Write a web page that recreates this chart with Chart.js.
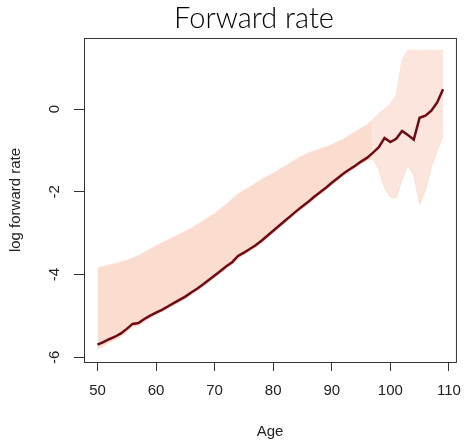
<!DOCTYPE html>
<html>
<head>
<meta charset="utf-8">
<script src="https://cdn.jsdelivr.net/npm/chart.js@4.4.1/dist/chart.umd.min.js"></script>
<style>
  html, body { margin: 0; padding: 0; background: #fff; }
  #wrap { width: 472px; height: 440px; }
</style>
</head>
<body>
<div id="wrap"><canvas id="fwdChart" width="472" height="440"></canvas></div>
<script>
// ages on the x axis
const ages = [50, 51, 52, 53, 54, 55, 56, 57, 58, 59,
    60, 61, 62, 63, 64, 65, 66, 67, 68, 69,
    70, 71, 72, 73, 74, 75, 76, 77, 78, 79,
    80, 81, 82, 83, 84, 85, 86, 87, 88, 89,
    90, 91, 92, 93, 94, 95, 96, 97, 98, 99,
    100, 101, 102, 103, 104, 105, 106, 107, 108, 109]

// observed log forward rate (dark line)
const observed = [-5.69, -5.63, -5.56, -5.50, -5.42, -5.31, -5.19, -5.17, -5.07, -4.99,
    -4.92, -4.85, -4.77, -4.69, -4.61, -4.53, -4.43, -4.34, -4.24, -4.13,
    -4.02, -3.91, -3.80, -3.70, -3.55, -3.47, -3.38, -3.29, -3.18, -3.06,
    -2.94, -2.82, -2.70, -2.58, -2.46, -2.35, -2.24, -2.12, -2.01, -1.90,
    -1.78, -1.67, -1.56, -1.46, -1.37, -1.27, -1.18, -1.06, -0.93, -0.70,
    -0.80, -0.72, -0.53, -0.63, -0.74, -0.21, -0.16, -0.04, 0.16, 0.48]

// upper edge of the simulated curves
const simUpper = [-3.83, -3.80, -3.76, -3.73, -3.69, -3.65, -3.60, -3.53, -3.46, -3.38,
    -3.30, -3.23, -3.16, -3.09, -3.02, -2.95, -2.88, -2.79, -2.70, -2.61,
    -2.52, -2.41, -2.30, -2.17, -2.05, -1.96, -1.88, -1.79, -1.70, -1.62,
    -1.55, -1.46, -1.38, -1.29, -1.20, -1.13, -1.06, -1.01, -0.96, -0.91,
    -0.86, -0.79, -0.72, -0.63, -0.55, -0.46, -0.38, -0.25, -0.10, 0.00,
    0.12, 0.35, 1.20, 1.42, 1.42, 1.42, 1.42, 1.42, 1.42, 1.42]

// lower edge of the simulated curves
const simLower = [-5.80, -5.72, -5.64, -5.57, -5.49, -5.38, -5.25, -5.23, -5.13, -5.05,
    -4.97, -4.90, -4.82, -4.74, -4.66, -4.58, -4.48, -4.39, -4.29, -4.18,
    -4.07, -3.96, -3.85, -3.75, -3.62, -3.52, -3.43, -3.34, -3.23, -3.11,
    -2.99, -2.87, -2.75, -2.63, -2.51, -2.40, -2.29, -2.17, -2.06, -1.95,
    -1.83, -1.72, -1.61, -1.51, -1.42, -1.32, -1.25, -1.20, -1.45, -1.90,
    -2.12, -2.15, -1.70, -1.35, -1.60, -2.30, -1.95, -1.40, -1.00, -0.62]

const xTicks = [50, 60, 70, 80, 90, 100, 110]
const yTicks = [-6, -4, -2, 0]

const pink = 'rgb(251,221,208)'
const pinkLight = 'rgb(252,229,220)'
const maroon = '#6f0a14'
const labelFont = '15px "Liberation Sans", Arial, sans-serif'

function pts(vals) {
    return ages.map((a, i) => ({ x: a, y: vals[i] }))
}

// title, rotated y labels, axis titles, frame
const decorations = {
    id: 'decorations',
    afterDraw(chart) {
        const ctx = chart.ctx
        const area = chart.chartArea
        const ys = chart.scales.y
        ctx.save()
        ctx.strokeStyle = '#333'
        ctx.lineWidth = 1
        ctx.strokeRect(area.left + 0.5, area.top + 0.5, area.right - area.left, area.bottom - area.top)

        ctx.fillStyle = '#222'
        ctx.font = labelFont
        ctx.textAlign = 'center'
        ctx.textBaseline = 'middle'
        yTicks.forEach(v => {
            ctx.save()
            ctx.translate(55, ys.getPixelForValue(v))
            ctx.rotate(-Math.PI / 2)
            ctx.fillText(String(v), 0, 0)
            ctx.restore()
        })

        ctx.save()
        ctx.translate(16, (area.top + area.bottom) / 2)
        ctx.rotate(-Math.PI / 2)
        ctx.fillText('log forward rate', 0, 0)
        ctx.restore()

        ctx.fillText('Age', (area.left + area.right) / 2, 432)

        ctx.fillStyle = '#000'
        ctx.font = '300 29px Lato, "Open Sans", sans-serif'
        ctx.textBaseline = 'alphabetic'
        ctx.fillText('Forward rate', 254, 28)
        ctx.restore()
    }
}

const ctx = document.getElementById('fwdChart').getContext('2d')
const fwdChart = new Chart(ctx, {
    type: 'line',
    data: {
        datasets: [{
            label: 'observed',
            data: pts(observed),
            borderColor: maroon,
            borderWidth: 2.5,
            pointRadius: 0,
            fill: false
        }, {
            label: 'upper',
            data: pts(simUpper),
            borderColor: pinkLight,
            borderWidth: 1,
            pointRadius: 0,
            fill: false
        }, {
            label: 'lower',
            data: pts(simLower),
            borderColor: pink,
            borderWidth: 1,
            pointRadius: 0,
            backgroundColor: pink,
            fill: 1,
            segment: {
                backgroundColor: c => c.p0.parsed.x >= 97 ? pinkLight : pink
            }
        }]
    },
    options: {
        responsive: false,
        animation: false,
        layout: {
            padding: { top: 38, right: 7, left: 0, bottom: 0 }
        },
        plugins: {
            legend: { display: false },
            tooltip: { enabled: false }
        },
        scales: {
            x: {
                type: 'linear',
                min: 47.7,
                max: 111.2,
                afterBuildTicks: s => { s.ticks = xTicks.map(v => ({ value: v })) },
                afterFit: s => { s.height = 78 },
                grid: {
                    drawOnChartArea: false,
                    drawTicks: true,
                    tickLength: 9,
                    color: '#333'
                },
                border: { display: false },
                ticks: {
                    padding: 11,
                    color: '#222',
                    font: { family: '"Liberation Sans", Arial, sans-serif', size: 15 },
                    maxRotation: 0
                }
            },
            y: {
                type: 'linear',
                min: -6.11,
                max: 1.715,
                afterBuildTicks: s => { s.ticks = yTicks.map(v => ({ value: v })) },
                afterFit: s => { s.width = 84 },
                grid: {
                    drawOnChartArea: false,
                    drawTicks: true,
                    tickLength: 10,
                    color: '#333'
                },
                border: { display: false },
                ticks: { display: false }
            }
        }
    },
    plugins: [decorations]
});
</script>
</body>
</html>
